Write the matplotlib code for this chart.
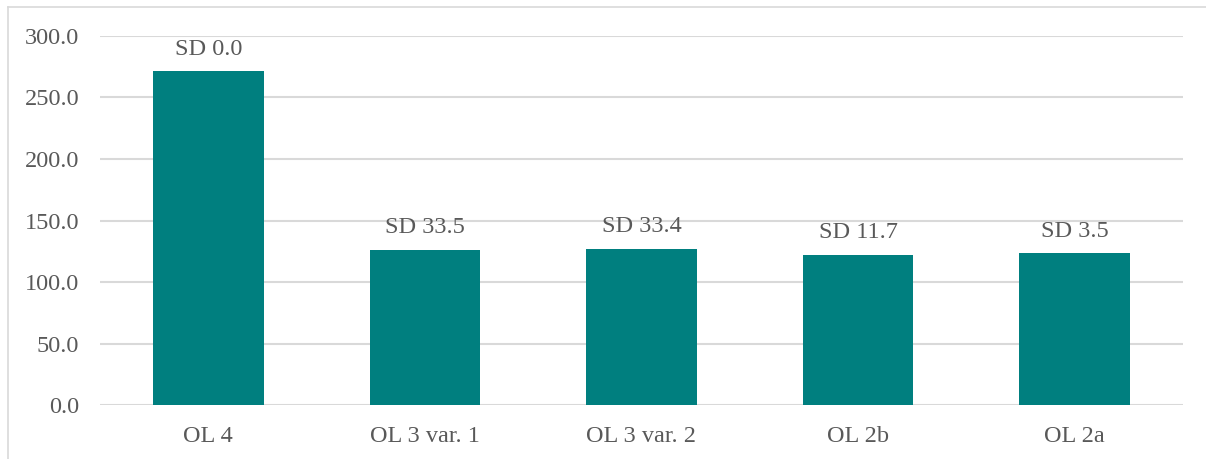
import matplotlib.pyplot as plt
from matplotlib.lines import Line2D

categories = ['OL 4', 'OL 3 var. 1', 'OL 3 var. 2', 'OL 2b', 'OL 2a']
values = [271.2, 126.0, 126.8, 122.0, 123.4]
sd_labels = ['SD 0.0', 'SD 33.5', 'SD 33.4', 'SD 11.7', 'SD 3.5']

plt.rcParams['font.family'] = ['Liberation Serif', 'DejaVu Serif']

fig = plt.figure(figsize=(12.06, 4.59), dpi=100)
ax = fig.add_axes([0.0829, 0.1176, 0.898, 0.804])

x = range(len(categories))
bars = ax.bar(x, values, width=0.51, color='#007F7F', zorder=3)

for b, lab in zip(bars, sd_labels):
    ax.annotate(lab, (b.get_x() + b.get_width() / 2, b.get_height()),
                xytext=(0, 12), textcoords='offset points',
                ha='center', va='baseline', fontsize=17.5, color='#595959')

ax.set_ylim(0, 300)
ax.set_xlim(-0.5, len(categories) - 0.5)
ax.set_yticks(range(0, 301, 50))
ax.set_yticklabels([f'{v:.1f}' for v in range(0, 301, 50)])
ax.set_xticks(list(x))
ax.set_xticklabels(categories)
ax.tick_params(axis='both', length=0, labelsize=17.5, labelcolor='#595959')
ax.tick_params(axis='y', pad=15)
ax.tick_params(axis='x', pad=15)
ax.yaxis.grid(True, color='#D9D9D9', linewidth=1.5, zorder=0)
for s in ax.spines.values():
    s.set_visible(False)

# chart area border (top and left edges visible)
fig.lines.append(Line2D([0.0066, 1.0], [0.985, 0.985], transform=fig.transFigure,
                        color='#D9D9D9', linewidth=1.2))
fig.lines.append(Line2D([0.0066, 0.0066], [0.0, 0.985], transform=fig.transFigure,
                        color='#D9D9D9', linewidth=1.2))

fig.savefig('out.png', dpi=100)
